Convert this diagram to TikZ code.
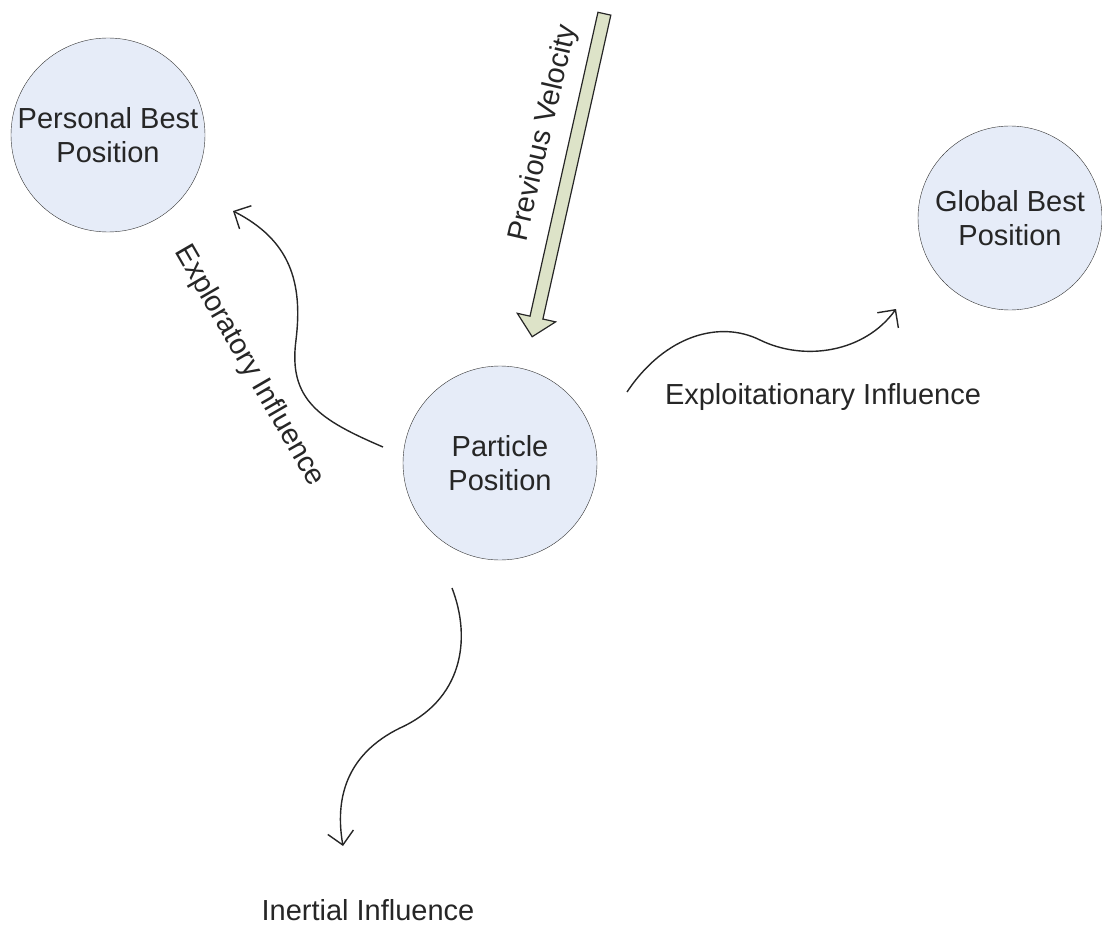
\documentclass[tikz,border=0pt]{standalone}
\usepackage{fontspec}
\setmainfont{Liberation Sans}
\usetikzlibrary{arrows.meta,shapes.arrows}
\definecolor{bubble}{RGB}{230,236,248}
\definecolor{velo}{RGB}{221,227,200}
\tikzset{
  posnode/.style={circle,draw=black!80,fill=bubble,minimum size=194pt,inner sep=0pt,align=center,text=black!85},
  infl/.style={draw=black!85,line width=1.4pt,-{Straight Barb[length=13pt,width=26pt,line width=1.4pt]}},
  lbl/.style={text=black!85}
}
\begin{document}
\begin{tikzpicture}[x=1pt,y=-1pt,font=\fontsize{29}{34}\selectfont]
\useasboundingbox (0,0) rectangle (1102,925);
\node (PB) [posnode] at (108,135) {Personal Best\\Position};
\node (GB) [posnode,minimum size=184pt] at (1010,218) {Global Best\\Position};
\node (PP) [posnode] at (500,463) {Particle\\Position};
\node (PV) [single arrow,draw=black!85,fill=velo,line width=1.2pt,minimum height=331pt,minimum width=36pt,inner sep=6pt,single arrow head extend=13pt,single arrow head indent=0pt,rotate=-102.6] at (569,172) {};
\node (PVl) [lbl,rotate=77] at (544,133) {Previous Velocity};
\coordinate (EXs) at (383,447);
\coordinate (EXe) at (233,211);
\coordinate (EIs) at (627,392);
\coordinate (EIe) at (896,309);
\coordinate (INs) at (452,588);
\coordinate (INe) at (343,846);
\draw[infl] (EXs) .. controls (320,420) and (288,400) .. (296,340) .. controls (303,282) and (290,240) .. (EXe);
\draw[infl] (EIs) .. controls (665,335) and (720,320) .. (760,340) .. controls (805,362) and (865,352) .. (EIe);
\draw[infl] (INs) .. controls (472,640) and (462,700) .. (400,728) .. controls (345,755) and (335,800) .. (INe);
\node (EXl) [lbl,rotate=-60] at (249,366) {Exploratory Influence};
\node (EIl) [lbl] at (823,397) {Exploitationary Influence};
\node (INl) [lbl] at (368,910) {Inertial Influence};
\end{tikzpicture}
\end{document}
